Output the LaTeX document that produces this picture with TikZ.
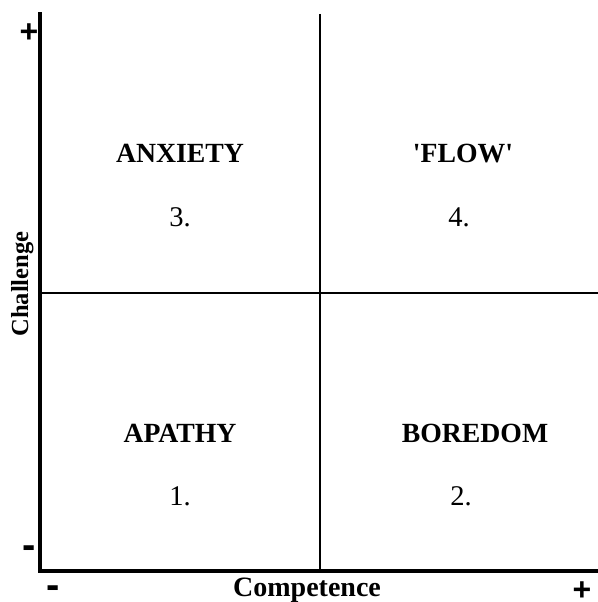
\documentclass[tikz,border=0pt]{standalone}
\usepackage{fontspec}
\setmainfont{Liberation Serif}
\newfontfamily\signfont{Liberation Sans}
\begin{document}
\begin{tikzpicture}[x=0.75pt,y=-0.75pt,
  axis/.style={line width=2.3pt,line cap=rect},
  divider/.style={line width=1.1pt},
  title/.style={font=\fontsize{20.8pt}{24pt}\selectfont\bfseries,anchor=base,inner sep=0pt},
  num/.style={font=\fontsize{21.4pt}{25pt}\selectfont,anchor=base,inner sep=0pt},
  axlabel/.style={font=\fontsize{21pt}{25pt}\selectfont\bfseries,anchor=base,inner sep=0pt},
  plussign/.style={font=\signfont\fontsize{24pt}{26pt}\selectfont\bfseries,inner sep=0pt},
  minussign/.style={font=\signfont\fontsize{30pt}{32pt}\selectfont\bfseries,inner sep=0pt}]
\useasboundingbox[fill=white] (0,0) rectangle (598,602);
% axes corner and ends
\coordinate (top) at (40,14);
\coordinate (origin) at (40,571);
\coordinate (right) at (598,571);
\coordinate (midtop) at (320,14);
\coordinate (midbot) at (320,571);
\coordinate (midleft) at (40,293);
\coordinate (midright) at (598,293);
\draw[divider] (midtop) -- (midbot);
\draw[divider] (midleft) -- (midright);
\draw[axis] (top) -- (origin) -- (right);
% quadrant labels
\node[title] (anx) at (180,163) {ANXIETY};
\node[num] (n3) at (180,226) {3.};
\node[title] (flow) at (463,163) {\textquotesingle FLOW\textquotesingle};
\node[num] (n4) at (459,226) {4.};
\node[title] (apa) at (180,442) {APATHY};
\node[num] (n1) at (180,505) {1.};
\node[title] (bor) at (475,442) {BOREDOM};
\node[num] (n2) at (461,505) {2.};
% axis labels
\node[axlabel] (comp) at (307,596) {Competence};
\node[axlabel,font=\fontsize{18.4pt}{22pt}\selectfont\bfseries,rotate=90] (chal) at (28,284) {Challenge};
% signs
\node[plussign] (pl1) at (29,33) {+};
\node[minussign] (mi1) at (29,552) {-};
\node[minussign] (mi2) at (53,592) {-};
\node[plussign] (pl2) at (582,591) {+};
\end{tikzpicture}
\end{document}
